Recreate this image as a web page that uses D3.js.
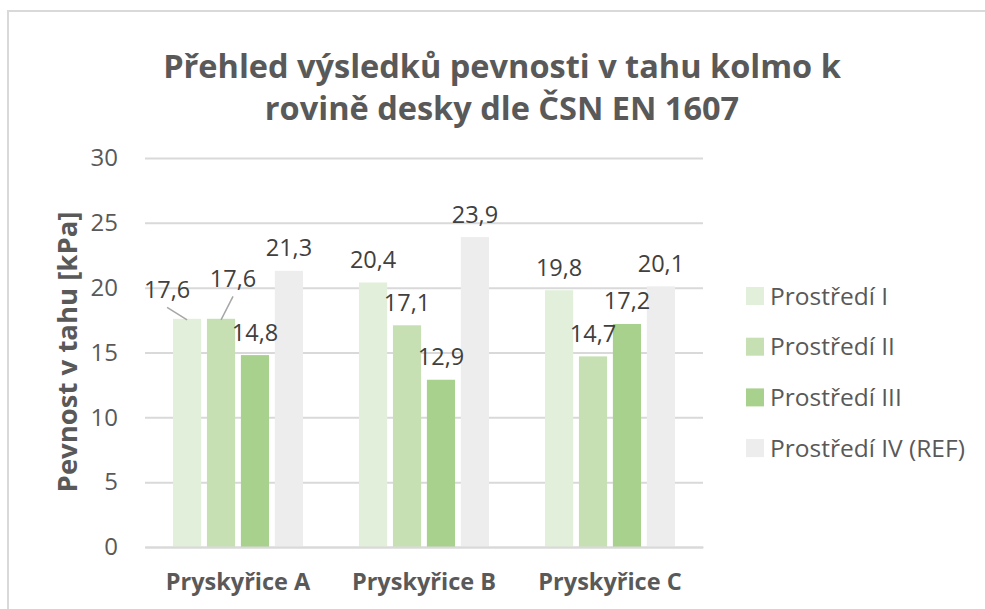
<!DOCTYPE html>
<html>
<head>
<meta charset="utf-8">
<script src="https://cdn.jsdelivr.net/npm/d3@7"></script>
<style>
  html, body { margin: 0; padding: 0; background: #fff; }
  svg { display: block; }
</style>
</head>
<body>
<svg id="chart" width="985" height="609"></svg>
<script>
const categories = ["Pryskyřice A", "Pryskyřice B", "Pryskyřice C"];
const seriesNames = ["Prostředí I", "Prostředí II", "Prostředí III", "Prostředí IV (REF)"];
const prostrediI   = [17.6, 20.4, 19.8];
const prostrediII  = [17.6, 17.1, 14.7];
const prostrediIII = [14.8, 12.9, 17.2];
const prostrediIV  = [21.3, 23.9, 20.1];
const yTicks = [0, 5, 10, 15, 20, 25, 30];
const titleLines = ["Přehled výsledků pevnosti v tahu kolmo k", "rovině desky dle ČSN EN 1607"];
const yTitle = "Pevnost v tahu [kPa]";

const seriesValues = [prostrediI, prostrediII, prostrediIII, prostrediIV];
const colors = ["#e2efda", "#c6e0b4", "#a9d18e", "#ededed"];
const FONT = "'Open Sans', 'Noto Sans', sans-serif";

const svg = d3.select("#chart");

// chart border
svg.append("rect").attr("x", 8).attr("y", 11).attr("width", 1000).attr("height", 700)
  .attr("fill", "#fff").attr("stroke", "#d9d9d9").attr("stroke-width", 2);

// title
svg.append("g").selectAll("text").data(titleLines).join("text")
  .attr("x", 502).attr("y", (d, i) => 78 + i * 42)
  .attr("text-anchor", "middle")
  .attr("font-family", FONT).attr("font-weight", "bold").attr("font-size", 32.5)
  .attr("fill", "#595959").text(d => d);

const plot = { left: 145, right: 703, top: 158, bottom: 547 };
const x = d3.scaleBand().domain(categories).range([plot.left, plot.right]).padding(0);
const xs = d3.scaleBand().domain(d3.range(seriesNames.length)).range([0, 130]).paddingInner(0.17);
const y = d3.scaleLinear().domain([0, 30]).range([plot.bottom, plot.top]);
const groupOffset = (x.bandwidth() - 130) / 2;

// gridlines
const yAxis = d3.axisLeft(y).tickValues(yTicks).tickSize(-(plot.right - plot.left)).tickPadding(27).tickFormat(d3.format("d"));
const gy = svg.append("g").attr("transform", `translate(${plot.left},0)`).call(yAxis);
gy.select(".domain").remove();
gy.selectAll(".tick line").attr("stroke", "#d9d9d9").attr("stroke-width", 2);
gy.selectAll(".tick text").attr("font-family", FONT).attr("font-size", 24).attr("fill", "#595959");

// bars
const data = [];
categories.forEach((c, ci) => seriesValues.forEach((vals, si) => data.push({ c, ci, si, v: vals[ci] })));
const barX = d => x(d.c) + groupOffset + xs(d.si);
svg.append("g").selectAll("rect").data(data).join("rect")
  .attr("x", barX).attr("width", xs.bandwidth())
  .attr("y", d => y(d.v)).attr("height", d => y(0) - y(d.v))
  .attr("fill", d => colors[d.si]);

// x axis baseline
const xAxis = d3.axisBottom(x).tickSize(0).tickPadding(26);
const gx = svg.append("g").attr("transform", `translate(0,${plot.bottom})`).call(xAxis);
gx.select(".domain").attr("stroke", "#d9d9d9").attr("stroke-width", 2);
gx.selectAll(".tick text").attr("font-family", FONT).attr("font-size", 23.5).attr("font-weight", "bold").attr("fill", "#595959");

// data labels (two labels moved with leader lines, as in the original)
const labelShift = { "0-0": [-20, -20.5], "0-1": [12, -31.5] };
const fmt = v => String(v).replace(".", ",");
const lbl = svg.append("g");
data.forEach(d => {
  const cx = barX(d) + xs.bandwidth() / 2;
  const topY = y(d.v);
  let lx = cx, ly = topY - 14.5;
  const key = `${d.ci}-${d.si}`;
  if (labelShift[key]) {
    lx = cx + labelShift[key][0];
    ly = topY + labelShift[key][1];
    lbl.append("line")
      .attr("x1", lx).attr("y1", ly + 9)
      .attr("x2", cx).attr("y2", topY + 1)
      .attr("stroke", "#a6a6a6").attr("stroke-width", 1.5);
  }
  lbl.append("text").attr("x", lx).attr("y", ly)
    .attr("text-anchor", "middle").attr("font-family", FONT).attr("font-size", 23.5)
    .attr("fill", "#404040").text(fmt(d.v));
});

// y axis title
svg.append("text")
  .attr("transform", "translate(77,352) rotate(-90)")
  .attr("text-anchor", "middle").attr("font-family", FONT).attr("font-weight", "bold")
  .attr("font-size", 27.5).attr("fill", "#595959").text(yTitle);

// legend
const lg = svg.append("g").selectAll("g").data(seriesNames).join("g")
  .attr("transform", (d, i) => `translate(746,${296 + i * 50.7})`);
lg.append("rect").attr("x", 0).attr("y", -9).attr("width", 18).attr("height", 18).attr("fill", (d, i) => colors[i]);
lg.append("text").attr("x", 24).attr("y", 8.5).attr("font-family", FONT).attr("font-size", 24.5)
  .attr("fill", "#595959").text(d => d);
</script>
</body>
</html>
